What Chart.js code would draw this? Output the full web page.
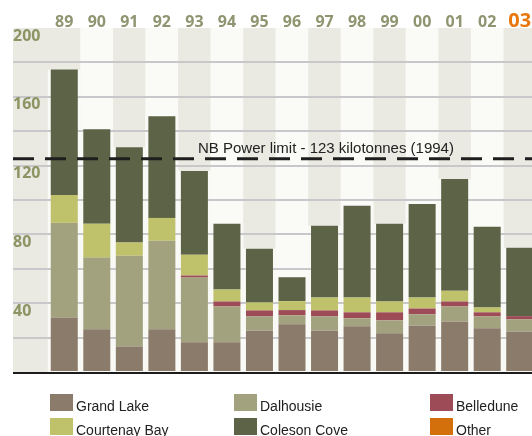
<!DOCTYPE html>
<html>
<head>
<meta charset="utf-8">
<script src="https://cdn.jsdelivr.net/npm/chart.js@4/dist/chart.umd.min.js"></script>
<style>
  html, body { margin: 0; padding: 0; background: #fff; overflow: hidden; }
  canvas { display: block; }
</style>
</head>
<body>
<canvas id="myChart" width="536" height="436"></canvas>
<script>
// emissions by plant, kilotonnes
var years = ['89', '90', '91', '92', '93', '94', '95', '96', '97', '98', '99', '00', '01', '02', '03'];
var grandLake = [31.7, 24.8, 14.9, 24.8, 17.3, 17.3, 24.2, 27.7, 24.2, 26.6, 22.5, 27.1, 29.4, 25.4, 23.6];
var dalhousie = [55, 41.7, 52.7, 51.5, 37.6, 20.8, 8.1, 5.2, 8.1, 4.6, 7.5, 6.4, 8.7, 6.9, 7];
var belledune = [0, 0, 0, 0, 1.2, 2.9, 3.5, 3.1, 3.5, 3.5, 4.7, 3.4, 2.9, 2.4, 1.9];
var courtenayBay = [16.2, 19.7, 7.7, 13.3, 12.1, 6.9, 4.6, 5.2, 7.5, 8.6, 6.3, 6.4, 6.2, 2.8, 0];
var colesonCove = [72.9, 55, 55.4, 59.1, 48.6, 38.3, 31.3, 13.9, 41.7, 53.3, 45.2, 54.4, 65, 46.9, 39.8];
var other = [0, 0, 0, 0, 0, 0, 0, 0, 0, 0, 0, 0, 0, 0, 0];
var limitValue = 124;
var limitText = 'NB Power limit - 123 kilotonnes (1994)';

// condensed heavy face for the axis numbers (weight string carries the stretch)
var narrowFont = "'Noto Sans', 'Open Sans', Roboto, sans-serif";
var narrowWeight = 'condensed bold';
var textFont = "'Liberation Sans', Arial, sans-serif";

// column bands + light gaps beside the bars, under the grid
var backdrop = {
    id: 'backdrop',
    beforeDraw: function (chart) {
        var ctx = chart.ctx;
        var area = chart.chartArea;
        var xs = chart.scales.x;
        var bw = xs.width / years.length;
        ctx.save();
        for (var i = 0; i < years.length; i++) {
            var cx = xs.getPixelForValue(i);
            var left = i === 0 ? 13 : cx - bw / 2;
            ctx.fillStyle = i % 2 === 0 ? '#eae9e2' : '#fafaf6';
            ctx.fillRect(left, area.top, cx + bw / 2 - left, area.bottom - area.top);
        }
        ctx.fillStyle = '#f9f9f5';
        for (var j = 0; j < years.length; j++) {
            var top = area.bottom, bx = null, w = 0;
            chart.data.datasets.forEach(function (ds, k) {
                var el = chart.getDatasetMeta(k).data[j];
                if (!el) return;
                bx = el.x; w = el.width;
                if (ds.data[j] > 0 && el.y < top) top = el.y;
            });
            if (bx === null) continue;
            ctx.fillRect(bx - w / 2 - 3, top, w + 6, area.bottom - top);
        }
        ctx.restore();
    },
    afterDatasetsDraw: function (chart) {
        var ctx = chart.ctx;
        var ys = chart.scales.y;
        var y0 = ys.getPixelForValue(0);
        var yl = ys.getPixelForValue(limitValue);
        ctx.save();
        // baseline
        ctx.fillStyle = '#1c1c1c';
        ctx.fillRect(13, y0, chart.width - 13, 2);
        // limit line
        ctx.strokeStyle = '#1e1e1e';
        ctx.lineWidth = 3;
        ctx.setLineDash([21, 11]);
        ctx.beginPath();
        ctx.moveTo(13, yl);
        ctx.lineTo(chart.width, yl);
        ctx.stroke();
        ctx.setLineDash([]);
        ctx.fillStyle = '#222';
        ctx.font = '15px ' + textFont;
        ctx.textAlign = 'left';
        ctx.textBaseline = 'alphabetic';
        ctx.fillText(limitText, 198, yl - 6);
        ctx.restore();
    },
    afterDraw: function (chart) {
        // legend, 3 columns x 2 rows
        var ctx = chart.ctx;
        var colX = [50, 234, 430];
        var rowY = [394, 418];
        ctx.save();
        ctx.font = '14px ' + textFont;
        ctx.textAlign = 'left';
        ctx.textBaseline = 'alphabetic';
        chart.data.datasets.forEach(function (ds, i) {
            var x = colX[i % 3];
            var y = rowY[Math.floor(i / 3)];
            ctx.fillStyle = ds.backgroundColor;
            ctx.fillRect(x, y, 23, 17);
            ctx.fillStyle = '#222';
            ctx.fillText(ds.label, x + 26, y + 17);
        });
        ctx.restore();
    }
};

var myChart = document.getElementById('myChart').getContext('2d');

var emissionsChart = new Chart(myChart, {
    type: 'bar',
    data: {
        labels: years,
        datasets: [
            { label: 'Grand Lake', data: grandLake, backgroundColor: '#8b7b6b' },
            { label: 'Dalhousie', data: dalhousie, backgroundColor: '#a2a37e' },
            { label: 'Belledune', data: belledune, backgroundColor: '#9d4b56' },
            { label: 'Courtenay Bay', data: courtenayBay, backgroundColor: '#c0c16b' },
            { label: 'Coleson Cove', data: colesonCove, backgroundColor: '#5c6347' },
            { label: 'Other', data: other, backgroundColor: '#d4700b' }
        ]
    },
    options: {
        responsive: false,
        animation: false,
        events: [],
        barPercentage: 0.83,
        categoryPercentage: 1,
        layout: { padding: { left: 13, right: 0, top: 0, bottom: 64 } },
        plugins: {
            legend: { display: false },
            tooltip: { enabled: false },
            title: { display: false }
        },
        scales: {
            x: {
                position: 'top',
                stacked: true,
                offset: true,
                grid: { display: false, drawTicks: false },
                border: { display: false },
                ticks: {
                    autoSkip: false,
                    maxRotation: 0,
                    padding: -2.5,
                    color: function (c) { return c.index === years.length - 1 ? '#e8780e' : '#8f9570'; },
                    font: function (c) {
                        return c.index === years.length - 1
                            ? { family: narrowFont, size: 20, weight: narrowWeight, lineHeight: 0.9 }
                            : { family: narrowFont, size: 16, weight: narrowWeight, lineHeight: 1 };
                    }
                },
                afterFit: function (scale) { scale.height = 28; }
            },
            y: {
                stacked: true,
                min: 0,
                max: 200,
                border: { display: false },
                grid: {
                    color: function (c) {
                        return (c.tick && (c.tick.value === 0 || c.tick.value === 200)) ? 'rgba(0,0,0,0)' : '#c8c8ca';
                    },
                    lineWidth: 2,
                    drawTicks: true,
                    tickLength: 35
                },
                ticks: {
                    stepSize: 20,
                    autoSkip: false,
                    crossAlign: 'far',
                    labelOffset: 8,
                    padding: 0,
                    color: '#8c9464',
                    font: { family: narrowFont, size: 16, weight: narrowWeight },
                    callback: function (v) { return (v > 0 && v % 40 === 0) ? v : ''; }
                },
                afterFit: function (scale) { scale.width = 35; }
            }
        }
    },
    plugins: [backdrop]
});
</script>
</body>
</html>
